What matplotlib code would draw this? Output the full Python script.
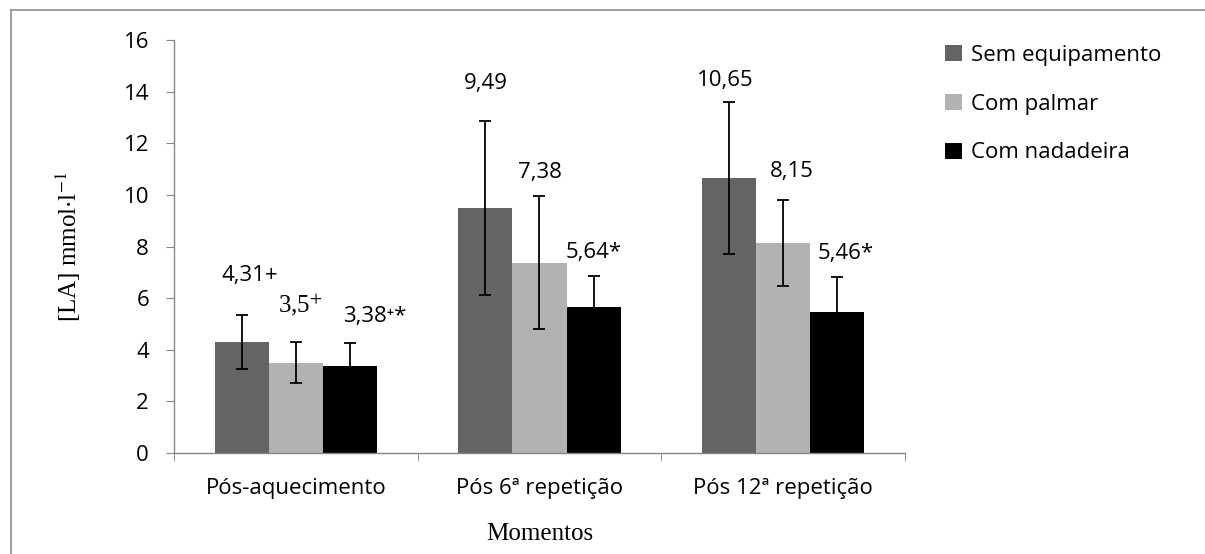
import matplotlib
matplotlib.use("Agg")
import matplotlib.pyplot as plt
import numpy as np

plt.rcParams['font.family'] = ['Open Sans', 'DejaVu Sans']
plt.rcParams['mathtext.fontset'] = 'stix'

momentos = ['Pós-aquecimento', 'Pós 6ª repetição', 'Pós 12ª repetição']
grupos = ['Sem equipamento', 'Com palmar', 'Com nadadeira']
cores = ['#646464', '#b2b2b2', '#000000']

sem_equip = [4.31, 9.49, 10.65]
palmar = [3.50, 7.38, 8.15]
nadadeira = [3.38, 5.64, 5.46]

sem_equip_dp = [1.05, 3.37, 2.93]
palmar_dp = [0.79, 2.58, 1.67]
nadadeira_dp = [0.90, 1.22, 1.36]

rotulos = [
    ['4,31+', '9,49', '10,65'],
    ['3,5$^{+}$', '7,38', '8,15'],
    ['3,38\u207a*', '5,64*', '5,46*'],
]

valores = [sem_equip, palmar, nadadeira]
desvios = [sem_equip_dp, palmar_dp, nadadeira_dp]

# deslocamento dos rótulos (pontos) em relação ao topo da barra de erro
desloc_x = [[6, 0, -3], [3, 0, 6], [18, 0, 6]]
desloc_y = [[28, 27, 16], [27, 17, 20], [19, 17, 17]]

fig = plt.figure(figsize=(12.05, 5.54), dpi=100)
ax = fig.add_axes([0.1444, 0.1823, 0.6066, 0.7455])

x = np.arange(len(momentos))
w = 0.222
for i in range(3):
    pos = x + (i - 1) * w
    ax.bar(pos, valores[i], width=w, color=cores[i], label=grupos[i])
    ax.errorbar(pos, valores[i], yerr=desvios[i], fmt='none', ecolor='black',
                elinewidth=1.3, capsize=4, capthick=1.3)
    for j in range(3):
        txt = rotulos[i][j]
        kw = {}
        if '$' in txt:
            kw['family'] = ['Liberation Serif', 'DejaVu Serif']
            kw['fontsize'] = 18
        else:
            kw['fontsize'] = 16
        ax.annotate(txt, (pos[j], valores[i][j] + desvios[i][j]),
                    xytext=(desloc_x[i][j], desloc_y[i][j]),
                    textcoords='offset points',
                    ha='center', va='center', **kw)

ax.set_xlim(-0.5, 2.5)
ax.set_ylim(0, 16)
ax.set_yticks(range(0, 17, 2))
ax.set_xticks(x)
ax.set_xticklabels(momentos)
ax.set_xticks([-0.5, 0.5, 1.5, 2.5], minor=True)

for s in ['top', 'right']:
    ax.spines[s].set_visible(False)
for s in ['left', 'bottom']:
    ax.spines[s].set_color('#868686')
    ax.spines[s].set_linewidth(1.0)

ax.tick_params(axis='y', length=6, color='#868686', labelsize=16, pad=12)
ax.tick_params(axis='x', which='major', length=0, labelsize=16, pad=18)
ax.tick_params(axis='x', which='minor', length=6, color='#868686')

ax.set_ylabel('[LA] mmol$\\cdot$l$^{-1}$', family='Liberation Serif',
              fontsize=18, labelpad=29)
ax.set_xlabel('Momentos', family='Liberation Serif', fontsize=18, labelpad=17)

fig.legend(loc='upper left', bbox_to_anchor=(0.768, 0.955), frameon=False,
           fontsize=16, handlelength=0.75, handleheight=0.75, handletextpad=0.4,
           labelspacing=1.25)

# moldura cinza (só topo e esquerda visíveis)
fig.add_artist(plt.Line2D([0.009, 1.0], [0.982, 0.982], color='#8c8c8c', lw=1.2))
fig.add_artist(plt.Line2D([0.009, 0.009], [0.0, 0.982], color='#8c8c8c', lw=1.2))

fig.savefig('out.png', dpi=100)
